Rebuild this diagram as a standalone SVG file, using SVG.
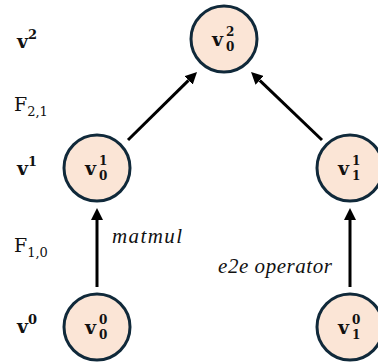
<svg xmlns="http://www.w3.org/2000/svg" width="378" height="363" viewBox="0 0 378 363">
  <style>
    .node circle { fill: #fbe5d6; stroke: #10293a; stroke-width: 3; }
    .vb { font-family: "DejaVu Serif", "Liberation Serif", serif; font-weight: bold; font-size: 19px; fill: #111; }
    .sc { font-size: 13px; }
    .ns { font-size: 12px; }
    .lf { font-family: "DejaVu Serif", "Liberation Serif", serif; font-size: 19px; fill: #111; }
    .lfs { font-size: 13px; }
    .op { font-family: "Liberation Serif", "DejaVu Serif", serif; font-style: italic; font-size: 21px; fill: #111; }
    .edge { stroke: #000; stroke-width: 3; fill: none; marker-end: url(#ah); }
  </style>
  <defs>
    <marker id="ah" viewBox="0 0 10 10" refX="0" refY="5" markerWidth="4" markerHeight="4" orient="auto" markerUnits="strokeWidth">
      <path d="M0,0 L10,5 L0,10 z" fill="#000"/>
    </marker>
  </defs>

  <g id="level-labels">
    <text class="vb" x="17" y="48">v<tspan class="sc" dy="-9">2</tspan></text>
    <text class="lf" x="14" y="111">F<tspan class="lfs" dy="5">2,1</tspan></text>
    <text class="vb" x="17" y="175">v<tspan class="sc" dy="-9">1</tspan></text>
    <text class="lf" x="14" y="252">F<tspan class="lfs" dy="5">1,0</tspan></text>
    <text class="vb" x="17" y="333">v<tspan class="sc" dy="-9">0</tspan></text>
  </g>

  <g id="connectors">
    <line class="edge" x1="97" y1="287" x2="97" y2="220"/>
    <line class="edge" x1="350" y1="287" x2="350" y2="220"/>
    <line class="edge" x1="128" y1="140" x2="188.5" y2="80.4"/>
    <line class="edge" x1="322" y1="140" x2="259.7" y2="80.3"/>
    <text class="op" x="112" y="243" textLength="70" lengthAdjust="spacing">matmul</text>
    <text class="op" x="218" y="273" textLength="114" lengthAdjust="spacing">e2e operator</text>
  </g>

  <g id="v2_0" class="node">
    <circle cx="224" cy="39" r="33"/>
    <text class="vb" x="212" y="46">v<tspan class="ns" x="226" dy="-10">2</tspan><tspan class="ns" x="226" dy="15">0</tspan></text>
  </g>
  <g id="v1_0" class="node">
    <circle cx="97" cy="168" r="33"/>
    <text class="vb" x="85" y="175">v<tspan class="ns" x="99" dy="-10">1</tspan><tspan class="ns" x="99" dy="15">0</tspan></text>
  </g>
  <g id="v1_1" class="node">
    <circle cx="350" cy="168" r="33"/>
    <text class="vb" x="338" y="175">v<tspan class="ns" x="352" dy="-10">1</tspan><tspan class="ns" x="352" dy="15">1</tspan></text>
  </g>
  <g id="v0_0" class="node">
    <circle cx="97" cy="327" r="33"/>
    <text class="vb" x="85" y="334">v<tspan class="ns" x="99" dy="-10">0</tspan><tspan class="ns" x="99" dy="15">0</tspan></text>
  </g>
  <g id="v0_1" class="node">
    <circle cx="350" cy="327" r="33"/>
    <text class="vb" x="338" y="334">v<tspan class="ns" x="352" dy="-10">0</tspan><tspan class="ns" x="352" dy="15">1</tspan></text>
  </g>
</svg>
